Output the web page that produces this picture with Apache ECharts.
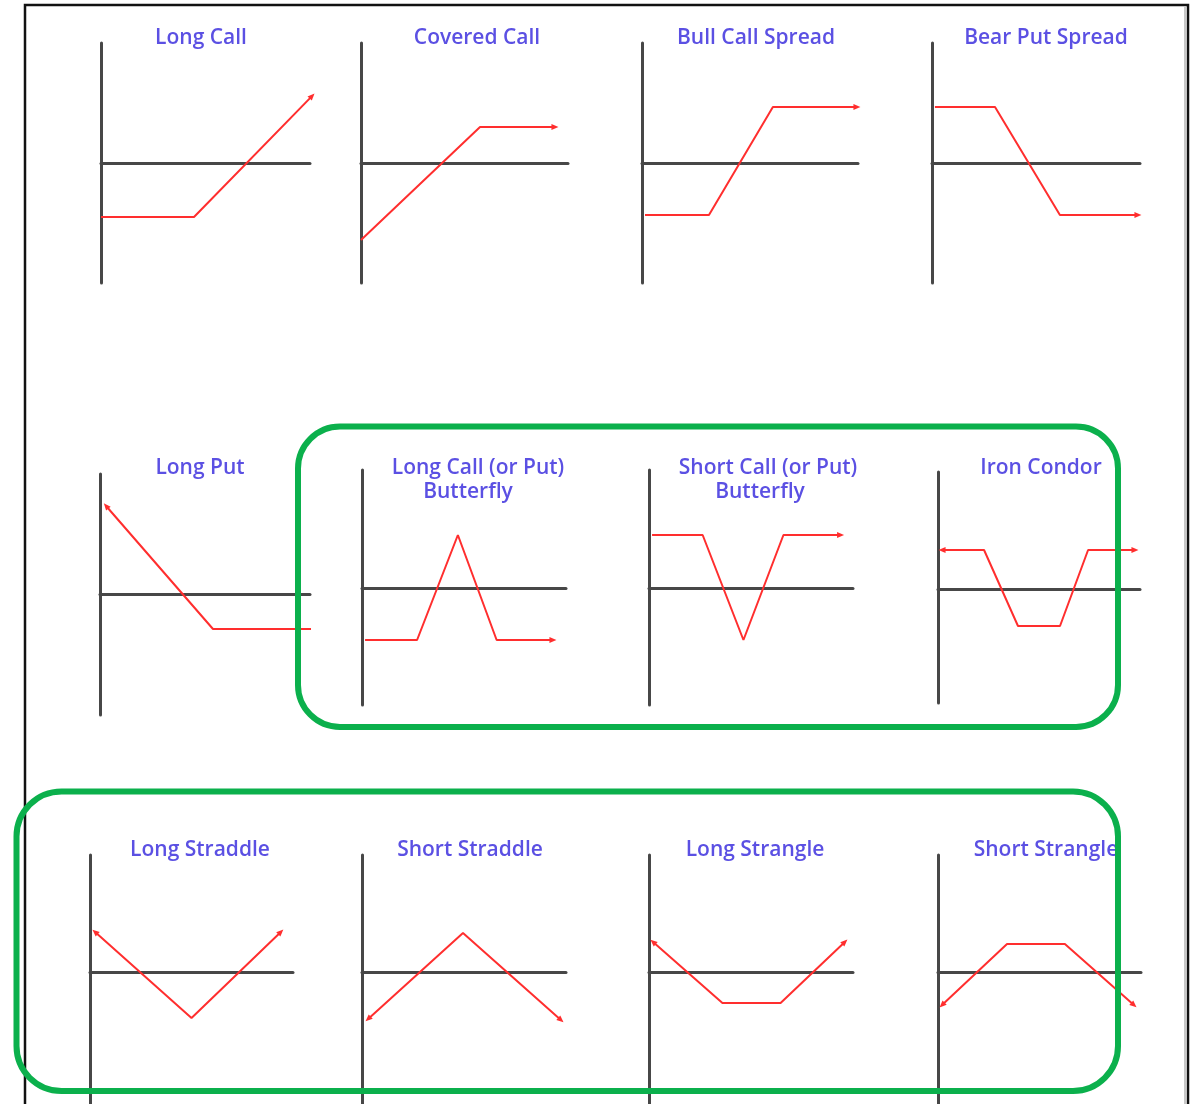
<!DOCTYPE html>
<html>
<head>
<meta charset="utf-8">
<script src="https://cdn.jsdelivr.net/npm/echarts@6/dist/echarts.min.js"></script>
<style>
html,body{margin:0;padding:0;background:#fff;}
#main{width:1197px;height:1104px;}
</style>
</head>
<body>
<div id="main"></div>
<script>
// ---------- DATA ----------
const titles = [
  ["Long Call"], ["Covered Call"], ["Bull Call Spread"], ["Bear Put Spread"],
  ["Long Put"], ["Long Call (or Put)", "Butterfly"], ["Short Call (or Put)", "Butterfly"], ["Iron Condor"],
  ["Long Straddle"], ["Short Straddle"], ["Long Strangle"], ["Short Strangle"]
];
// payoff diagrams: x = underlying price (0..10), y = profit/loss
const payoffX = [
  [0, 4.45, 10.1],
  [0, 5.75, 9.37],
  [0.14, 3.1, 6.06, 9.95],
  [0.14, 3.03, 6.15, 9.9],
  [0.29, 5.38, 10.05],
  [0.15, 2.7, 4.7, 6.6, 9.36],
  [0.15, 2.63, 4.63, 6.59, 9.39],
  [0.2, 2.28, 3.96, 6.04, 7.43, 9.75],
  [0.25, 5.0, 9.4],
  [0.3, 4.95, 9.75],
  [0.2, 3.6, 6.45, 9.6],
  [0.2, 3.4, 6.25, 9.65]
];
const payoffY = [
  [-2.7, -2.7, 3.35],
  [-3.85, 1.8, 1.8],
  [-2.6, -2.6, 2.8, 2.8],
  [2.8, 2.8, -2.6, -2.6],
  [4.4, -1.75, -1.75],
  [-2.6, -2.6, 2.65, -2.6, -2.6],
  [2.65, 2.65, -2.6, 2.65, 2.65],
  [1.95, 1.95, -1.85, -1.85, 1.95, 1.95],
  [2.0, -2.3, 2.0],
  [-2.35, 1.95, -2.4],
  [1.5, -1.55, -1.55, 1.5],
  [-1.65, 1.4, 1.4, -1.65]
];
const arrowStart = [false,false,false,false,true,false,false,true,true,true,true,true];
const arrowEnd   = [true,true,true,true,false,true,true,true,true,true,true,true];

// ---------- LAYOUT (pixels) ----------
// [vertical axis x, axis top, axis bottom, horizontal axis right end, zero line y]
const layout = [
  [101, 43, 283, 310, 163],
  [361, 43, 283, 568, 163],
  [642, 43, 283, 858, 163],
  [932, 43, 283, 1140, 163],
  [100, 474, 715, 310, 594],
  [362, 470, 705, 566, 588],
  [649, 470, 705, 853, 588],
  [938, 472, 703, 1140, 589],
  [90, 855, 1104, 293, 972],
  [362, 855, 1104, 566, 972],
  [649, 855, 1104, 853, 972],
  [938, 855, 1104, 1141, 972]
];
// title anchor positions [center x, first line center y]
const titlePos = [
  [201, 38], [477, 38], [756, 38], [1046, 38],
  [200, 468], [478, 468], [768, 468], [1041, 468],
  [200, 850], [470, 850], [755, 850], [1046, 850]
];
const titleLine2Dx = [0,0,0,0,0,-10,-8,0,0,0,0,0];
const PX_PER_Y = 20;
const X_MAX = 10;

const grids = [], xAxes = [], yAxes = [], series = [], graphics = [];
const axisLineStyle = {color: '#474747', width: 3};

layout.forEach((L, i) => {
  const [vx, top, bottom, right, zero] = L;
  const w = right - vx, h = bottom - top;
  grids.push({left: vx, top: top, width: w, height: h, containLabel: false});
  xAxes.push({type: 'value', gridIndex: i, min: 0, max: X_MAX,
    axisLine: {show: true, onZero: true, lineStyle: axisLineStyle},
    axisTick: {show: false}, axisLabel: {show: false}, splitLine: {show: false}});
  yAxes.push({type: 'value', gridIndex: i,
    min: -(bottom - zero) / PX_PER_Y, max: (zero - top) / PX_PER_Y,
    axisLine: {show: true, onZero: false, lineStyle: axisLineStyle},
    axisTick: {show: false}, axisLabel: {show: false}, splitLine: {show: false}});
  const pxX = w / X_MAX;
  const xs = payoffX[i], ys = payoffY[i], n = xs.length;
  const rot = (a, b) => {
    const dx = (xs[b] - xs[a]) * pxX, dy = (ys[b] - ys[a]) * PX_PER_Y;
    return Math.atan2(dy, dx) * 180 / Math.PI - 90;
  };
  const data = xs.map((x, k) => {
    const item = {value: [x, ys[k]], symbol: 'none'};
    if (k === 0 && arrowStart[i]) { item.symbol = 'triangle'; item.symbolRotate = rot(1, 0); }
    if (k === n - 1 && arrowEnd[i]) { item.symbol = 'triangle'; item.symbolRotate = rot(n - 2, n - 1); }
    return item;
  });
  series.push({type: 'line', xAxisIndex: i, yAxisIndex: i, data: data,
    showSymbol: true, symbolSize: [6, 7], clip: false, silent: true, animation: false,
    lineStyle: {color: '#ff2e2e', width: 2}, itemStyle: {color: '#ff2e2e'}, z: 3});
  titles[i].forEach((t, j) => {
    graphics.push({type: 'text', x: titlePos[i][0] + (j ? titleLine2Dx[i] : 0), y: titlePos[i][1] + j * 24, z: 50,
      style: {text: t, align: 'center', verticalAlign: 'middle', fill: '#5b50e3',
        font: '600 21px "Open Sans", sans-serif'}});
  });
});

// frame and highlight boxes
graphics.push({type: 'rect', z: 90, shape: {x: 25, y: 5, width: 1163, height: 1200},
  style: {fill: 'none', stroke: '#111', lineWidth: 2.5}});
graphics.push({type: 'line', z: 89, shape: {x1: 1185, y1: 7, x2: 1185, y2: 1110},
  style: {stroke: '#c8c8c8', lineWidth: 2}});
graphics.push({type: 'rect', z: 100, shape: {x: 298, y: 426.5, width: 820, height: 300.5, r: 42},
  style: {fill: 'none', stroke: '#0bb04c', lineWidth: 6}});
graphics.push({type: 'rect', z: 100, shape: {x: 16.5, y: 791.5, width: 1101.5, height: 299.5, r: 45},
  style: {fill: 'none', stroke: '#0bb04c', lineWidth: 6}});

const chart = echarts.init(document.getElementById('main'), null, {renderer: 'canvas'});
chart.setOption({
  animation: false,
  backgroundColor: '#fff',
  grid: grids, xAxis: xAxes, yAxis: yAxes, series: series, graphic: graphics
});
</script>
</body>
</html>
